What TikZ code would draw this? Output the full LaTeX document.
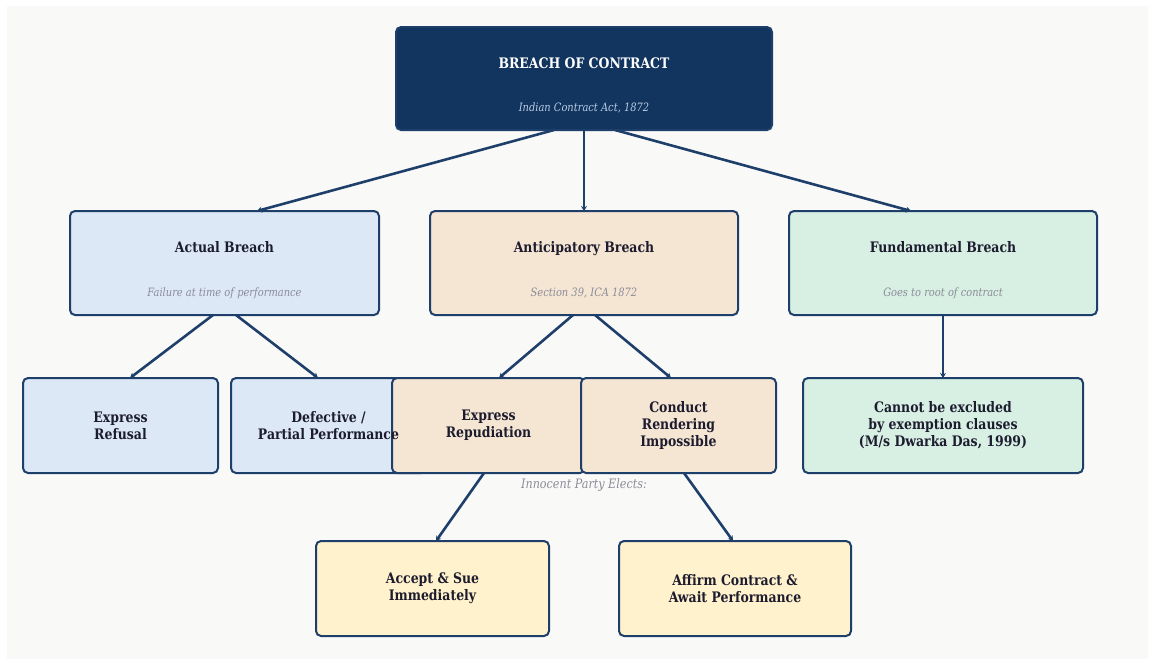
\documentclass[tikz,border=0pt]{standalone}
\usepackage{fontspec}
\setmainfont{DejaVu Serif}[FakeStretch=0.86]
\usetikzlibrary{positioning,calc,arrows.meta}
\definecolor{navy}{HTML}{12355F}
\definecolor{edgeblue}{HTML}{1F3F6B}
\definecolor{actualfill}{HTML}{DCE8F6}
\definecolor{anticfill}{HTML}{F5E5D3}
\definecolor{fundfill}{HTML}{D8EFE3}
\definecolor{electfill}{HTML}{FFF2CC}
\definecolor{titletext}{HTML}{1C1C2E}
\definecolor{subtext}{HTML}{8C8C99}
\definecolor{roottext}{HTML}{B9CCE4}
\definecolor{canvas}{HTML}{F9F9F8}
\pgfmathsetmacro{\toph}{104}
\pgfmathsetmacro{\leafh}{95}
\pgfmathsetmacro{\leafw}{195}

\begin{document}
\begin{tikzpicture}[x=1pt, y=-1pt,
    box/.style={draw=edgeblue, line width=2pt, rounded corners=5pt, inner sep=0pt, outer sep=0pt},
    link/.style={edgeblue, line width=2.6pt, -{Stealth[length=5pt, width=6pt]}},
    title/.style={font=\bfseries\fontsize{14.5}{17}\selectfont, text=titletext, align=center},
    note/.style={font=\itshape\fontsize{11.5}{13}\selectfont, text=subtext, anchor=base}]
    \useasboundingbox (0,0) rectangle (1151,662);
    \fill[canvas] (7,6) rectangle (1148,659);
    % define boxes
    % top
    \node[box, fill=navy, minimum width=376pt, minimum height=103pt] (root) at (584,78.5) {};
    % breach types
    \node[box, fill=actualfill, minimum width=309pt, minimum height=\toph pt] (actual) at (224.5,263) {};
    \node[box, fill=anticfill, minimum width=308pt, minimum height=\toph pt] (antic) at (584,263) {};
    \node[box, fill=fundfill, minimum width=308pt, minimum height=\toph pt] (fund) at (943,263) {};
    % forms
    \node[box, fill=actualfill, minimum width=\leafw pt, minimum height=\leafh pt] (refusal) at (120.5,425.5) {};
    \node[box, fill=actualfill, minimum width=\leafw pt, minimum height=\leafh pt] (defect) at (328.5,425.5) {};
    \node[box, fill=anticfill, minimum width=193pt, minimum height=\leafh pt] (exprep) at (488.5,425.5) {};
    \node[box, fill=anticfill, minimum width=\leafw pt, minimum height=\leafh pt] (conduct) at (678.5,425.5) {};
    \node[box, fill=fundfill, minimum width=280pt, minimum height=\leafh pt] (exclude) at (943,425.5) {};
    % elections
    \node[box, fill=electfill, minimum width=233pt, minimum height=\leafh pt] (accept) at (432.5,588.5) {};
    \node[box, fill=electfill, minimum width=232pt, minimum height=\leafh pt] (affirm) at (735,588.5) {};
    % draw links
    \draw[link] ($(root.south)+(-30,0)$) -- ($(actual.north)+(32.5,0)$);
    \draw[link] (root.south) -- (antic.north);
    \draw[link] ($(root.south)+(31,0)$) -- ($(fund.north)+(-32,0)$);
    \draw[link] ($(actual.south)+(-11.5,0)$) -- ($(refusal.north)+(9.5,0)$);
    \draw[link] ($(actual.south)+(11.5,0)$) -- ($(defect.north)+(-10.5,0)$);
    \draw[link] ($(antic.south)+(-11,0)$) -- ($(exprep.north)+(10.5,0)$);
    \draw[link] ($(antic.south)+(11,0)$) -- ($(conduct.north)+(-7.5,0)$);
    \draw[link] (fund.south) -- (exclude.north);
    \draw[link] ($(exprep.south)+(-4.5,0)$) -- ($(accept.north)+(3.5,0)$);
    \draw[link] ($(conduct.south)+(5.5,0)$) -- ($(affirm.north)+(-2,0)$);
    % add labels
    \node[title, text=white, anchor=base] (root_title) at ($(root.north)+(0,41)$) {BREACH OF CONTRACT};
    \node[note, text=roottext] (root_note) at ($(root.north)+(0,84.5)$) {Indian Contract Act, 1872};
    \node[title, anchor=base] (actual_title) at ($(actual.north)+(0,41.5)$) {Actual Breach};
    \node[note] (actual_note) at ($(actual.north)+(0,85)$) {Failure at time of performance};
    \node[title, anchor=base] (antic_title) at ($(antic.north)+(0,41.5)$) {Anticipatory Breach};
    \node[note] (antic_note) at ($(antic.north)+(0,85)$) {Section 39, ICA 1872};
    \node[title, anchor=base] (fund_title) at ($(fund.north)+(0,41.5)$) {Fundamental Breach};
    \node[note] (fund_note) at ($(fund.north)+(0,85)$) {Goes to root of contract};
    \node[title] (refusal_text) at (refusal) {Express\\Refusal};
    \node[title] (defect_text) at (defect) {Defective /\\Partial Performance};
    \node[title] (exprep_text) at (exprep) {Express\\Repudiation};
    \node[title] (conduct_text) at (conduct) {Conduct\\Rendering\\Impossible};
    \node[title] (exclude_text) at (exclude) {Cannot be excluded\\by exemption clauses\\(M/s Dwarka Das, 1999)};
    \node[note, font=\itshape\fontsize{13}{15}\selectfont] (elects) at (584,488.5) {Innocent Party Elects:};
    \node[title] (accept_text) at (accept) {Accept \& Sue\\Immediately};
    \node[title] (affirm_text) at (affirm) {Affirm Contract \&\\Await Performance};
\end{tikzpicture}
\end{document}
